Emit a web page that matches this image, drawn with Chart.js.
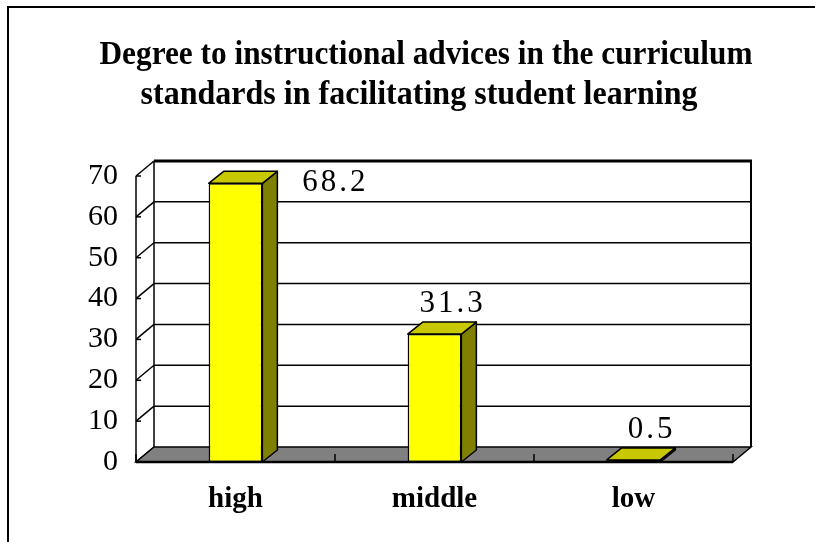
<!DOCTYPE html>
<html>
<head>
<meta charset="utf-8">
<script src="https://cdn.jsdelivr.net/npm/chart.js@4.4.0/dist/chart.umd.min.js"></script>
<style>
  html, body { margin: 0; padding: 0; background: #fff; }
  canvas { display: block; }
</style>
</head>
<body>
<canvas id="chart-1" width="815" height="542"></canvas>
<script>
const categories = ['high', 'middle', 'low'];
const values = [68.2, 31.3, 0.5];
const yTicks = [0, 10, 20, 30, 40, 50, 60, 70];
const titleLines = ['Degree to instructional advices in the curriculum', 'standards in facilitating student learning'];

// depth of the walls / floor and of the bars
const WALL_DX = 18, WALL_DY = -15;
const BAR_DX = 15, BAR_DY = -12;

function line(ctx, x1, y1, x2, y2) {
  ctx.beginPath();
  ctx.moveTo(x1, y1);
  ctx.lineTo(x2, y2);
  ctx.stroke();
}

// outer frame + title
const frameTitle = {
  id: 'frameTitle',
  afterDraw(chart) {
    const ctx = chart.ctx;
    ctx.save();
    ctx.strokeStyle = '#000';
    ctx.lineWidth = 2;
    line(ctx, 8, 7, 8, 542);
    line(ctx, 7, 7, 815, 7);

    ctx.fillStyle = '#000';
    ctx.font = 'bold 33px "Liberation Serif"';
    ctx.textAlign = 'center';
    ctx.textBaseline = 'alphabetic';
    const spots = [[426, 64, 653], [419, 104, 557]];
    titleLines.forEach((t, i) => {
      const [cx, by, w] = spots[i];
      const sx = w / ctx.measureText(t).width;
      ctx.save();
      ctx.translate(cx, by);
      ctx.scale(sx, 1);
      ctx.fillText(t, 0, 0);
      ctx.restore();
    });
    ctx.restore();
  }
};

// back wall, side wall and floor
const walls = {
  id: 'walls',
  beforeDatasetsDraw(chart) {
    const ctx = chart.ctx;
    const a = chart.chartArea;
    const ys = chart.scales.y;
    const top = ys.getPixelForValue(yTicks[yTicks.length - 1]);
    const bottom = ys.getPixelForValue(yTicks[0]);
    ctx.save();
    ctx.strokeStyle = '#000';
    ctx.lineWidth = 1.5;

    // grid lines on back wall + side wall
    yTicks.forEach(v => {
      const py = ys.getPixelForValue(v);
      if (v !== yTicks[0]) line(ctx, a.left + WALL_DX, py + WALL_DY, a.right + WALL_DX, py + WALL_DY);
      line(ctx, a.left, py, a.left + WALL_DX, py + WALL_DY);
      line(ctx, a.left, py, a.left + 5, py);
    });
    line(ctx, a.left, top, a.left, bottom);
    line(ctx, a.left + WALL_DX, top + WALL_DY, a.left + WALL_DX, bottom + WALL_DY);
    ctx.lineWidth = 2;
    line(ctx, a.right + WALL_DX, top + WALL_DY, a.right + WALL_DX, bottom + WALL_DY);
    ctx.lineWidth = 3;
    line(ctx, a.left + WALL_DX, top + WALL_DY, a.right + WALL_DX + 1, top + WALL_DY);

    // floor
    ctx.lineWidth = 1.5;
    ctx.fillStyle = '#808080';
    ctx.beginPath();
    ctx.moveTo(a.left, bottom);
    ctx.lineTo(a.right, bottom);
    ctx.lineTo(a.right + WALL_DX, bottom + WALL_DY);
    ctx.lineTo(a.left + WALL_DX, bottom + WALL_DY);
    ctx.closePath();
    ctx.fill();
    ctx.stroke();
    ctx.lineWidth = 2.5;
    line(ctx, a.left, bottom, a.right, bottom);

    // category ticks on front floor edge
    ctx.lineWidth = 1.5;
    const step = (a.right - a.left) / categories.length;
    for (let k = 0; k <= categories.length; k++) {
      const px = a.left + k * step;
      line(ctx, px, bottom, px, bottom - 8);
    }
    ctx.restore();
  }
};

// side / top faces of bars and value labels
const bars3d = {
  id: 'bars3d',
  afterDatasetsDraw(chart) {
    const ctx = chart.ctx;
    const a = chart.chartArea;
    const meta = chart.getDatasetMeta(0);
    ctx.save();
    ctx.strokeStyle = '#000';
    ctx.lineWidth = 1.5;
    ctx.lineJoin = 'round';
    meta.data.forEach((bar, i) => {
      const l = bar.x - bar.width / 2, r = bar.x + bar.width / 2;
      const t = bar.y, b = bar.base;
      // side
      ctx.fillStyle = '#808000';
      ctx.beginPath();
      ctx.moveTo(r, t);
      ctx.lineTo(r + BAR_DX, t + BAR_DY);
      ctx.lineTo(r + BAR_DX, b + BAR_DY);
      ctx.lineTo(r, b);
      ctx.closePath();
      ctx.fill();
      ctx.stroke();
      // top
      ctx.fillStyle = '#C8C800';
      ctx.beginPath();
      ctx.moveTo(l, t);
      ctx.lineTo(l + BAR_DX, t + BAR_DY);
      ctx.lineTo(r + BAR_DX, t + BAR_DY);
      ctx.lineTo(r, t);
      ctx.closePath();
      ctx.fill();
      ctx.stroke();

      // value label
      ctx.fillStyle = '#000';
      ctx.font = '31px "Liberation Serif"';
      ctx.letterSpacing = '3px';
      ctx.textBaseline = 'middle';
      const txt = String(values[i]);
      if (t - 42 < a.top + WALL_DY) {
        ctx.textAlign = 'left';
        ctx.fillText(txt, r + BAR_DX + 25, t);
      } else {
        ctx.textAlign = 'center';
        ctx.fillText(txt, bar.x + 18, t - 30);
      }
    });
    ctx.restore();
  }
};

new Chart(document.getElementById('chart-1'), {
  type: 'bar',
  data: {
    labels: categories,
    datasets: [{
      data: values,
      backgroundColor: '#FFFF00',
      borderColor: '#000',
      borderWidth: 1.5,
      borderSkipped: false,
      barPercentage: 0.27,
      categoryPercentage: 1
    }]
  },
  options: {
    responsive: false,
    animation: false,
    devicePixelRatio: 1,
    layout: { padding: { left: 0, right: 82, top: 176, bottom: 0 } },
    plugins: {
      legend: { display: false },
      title: { display: false },
      tooltip: { enabled: false }
    },
    scales: {
      x: {
        grid: { display: false },
        border: { display: false },
        ticks: {
          color: '#000',
          padding: 12,
          font: { family: 'Liberation Serif', size: 29, weight: 'bold' }
        },
        afterFit(scale) { scale.height = 80; }
      },
      y: {
        min: 0,
        max: 70,
        grid: { display: false },
        border: { display: false },
        ticks: {
          stepSize: 10,
          color: '#000',
          padding: 10,
          font: { family: 'Liberation Serif', size: 30 }
        },
        afterFit(scale) { scale.width = 136; }
      }
    }
  },
  plugins: [walls, bars3d, frameTitle]
});
</script>
</body>
</html>
